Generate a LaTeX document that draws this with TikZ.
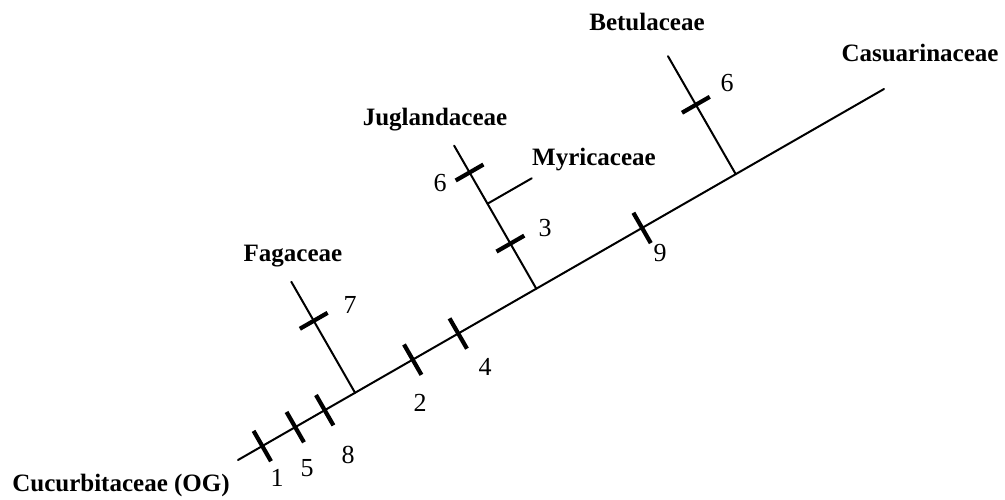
\documentclass[tikz,border=0pt]{standalone}
\usepackage{fontspec}
\setmainfont{Liberation Serif}
\usetikzlibrary{calc}
\begin{document}
\begin{tikzpicture}[x=1pt,y=-1pt,
  edge/.style={line width=2pt, line cap=round},
  tickmark/.style={line width=4.2pt},
  taxon/.style={font=\fontsize{25}{25}\selectfont\bfseries, inner sep=0pt, text height=17pt, text depth=0pt},
  num/.style={font=\fontsize{26}{26}\selectfont, inner sep=0pt, text height=17.5pt, text depth=0pt}]
\useasboundingbox (0,0) rectangle (1005,499);
\def\ang{29.87}
% main axis
\coordinate (root) at (238,460);
\coordinate (tip) at (884,89);
\draw[edge] (root) -- (tip);
% junctions on main axis
\coordinate (fj) at ($(root)!135pt!(tip)$);
\coordinate (jj) at ($(root)!344pt!(tip)$);
\coordinate (bj) at ($(root)!574pt!(tip)$);
% branch tips
\coordinate (ftop) at ($(fj)!128pt!90:(tip)$);
\coordinate (jtop) at ($(jj)!165pt!90:(tip)$);
\coordinate (btop) at ($(bj)!136pt!90:(tip)$);
\draw[edge] (fj) -- (ftop);
\draw[edge] (jj) -- (jtop);
\draw[edge] (bj) -- (btop);
% Myricaceae side branch
\coordinate (mj) at ($(jj)!98pt!(jtop)$);
\coordinate (mtop) at ($(mj)+(\ang:51pt)$);
\draw[edge] (mj) -- (mtop);
% ticks on main axis
\foreach \n/\d in {t1/28, t5/66, t8/100, t2/201.5, t4/254, t9/466}{
  \coordinate (\n) at ($(root)!\d pt!(tip)$);
  \draw[tickmark] ($(\n)+(\ang+90:17.5pt)$) -- ($(\n)+(\ang-90:17.5pt)$);
}
% ticks on side branches
\coordinate (f7) at ($(fj)!83pt!(ftop)$);
\coordinate (j3) at ($(jj)!52pt!(jtop)$);
\coordinate (j6) at ($(jj)!134pt!(jtop)$);
\coordinate (b6) at ($(bj)!80pt!(btop)$);
\foreach \n in {f7, j3, j6, b6}{
  \draw[tickmark] ($(\n)+(\ang:16pt)$) -- ($(\n)+(\ang+180:16pt)$);
}
% taxon labels
\node[taxon] (og) at (121,483) {Cucurbitaceae (OG)};
\node[taxon] (fag) at (293,253) {Fagaceae};
\node[taxon] (jug) at (435,117) {Juglandaceae};
\node[taxon] (myr) at (594,157) {Myricaceae};
\node[taxon] (bet) at (647,22) {Betulaceae};
\node[taxon] (cas) at (920,53) {Casuarinaceae};
% character numbers
\node[num] (n1) at (277,478) {1};
\node[num] (n5) at (307,468) {5};
\node[num] (n8) at (348,455) {8};
\node[num] (n2) at (420,403) {2};
\node[num] (n4) at (485,367) {4};
\node[num] (n9) at (660,253) {9};
\node[num] (n7) at (350,305) {7};
\node[num] (n3) at (545,228) {3};
\node[num] (n6a) at (440,183) {6};
\node[num] (n6b) at (727,83) {6};
\end{tikzpicture}
\end{document}
